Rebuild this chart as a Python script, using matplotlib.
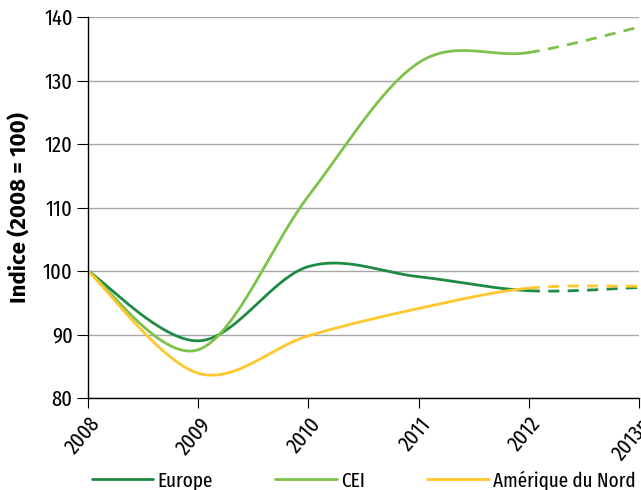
import numpy as np
import matplotlib
matplotlib.use("Agg")
import matplotlib.pyplot as plt

years = ["2008", "2009", "2010", "2011", "2012", "2013p"]
europe = [100.0, 89.0, 100.7, 99.1, 96.9, 97.4]
cei = [100.0, 87.6, 111.8, 132.8, 134.4, 138.4]
amerique = [100.0, 83.9, 89.8, 94.1, 97.3, 97.6]

series = [
    ("Europe", europe, "#1f8a43"),
    ("CEI", cei, "#7dc24a"),
    ("Amérique du Nord", amerique, "#ffc72c"),
]

plt.rcParams["font.family"] = ["Fira Sans Extra Condensed", "Fira Sans Condensed", "DejaVu Sans"]


def smooth(xs, ys, n=40):
    """Excel-like smoothed line: cubic Bezier segments with Catmull-Rom control points."""
    pts = np.column_stack([xs, ys]).astype(float)
    out_x, out_y = [], []
    t = np.linspace(0, 1, n)
    for i in range(len(pts) - 1):
        p0 = pts[i - 1] if i > 0 else pts[i]
        p1, p2 = pts[i], pts[i + 1]
        p3 = pts[i + 2] if i + 2 < len(pts) else pts[i + 1]
        c1 = p1 + (p2 - p0) / 6
        c2 = p2 - (p3 - p1) / 6
        seg = ((1 - t) ** 3)[:, None] * p1 + (3 * (1 - t) ** 2 * t)[:, None] * c1 \
            + (3 * (1 - t) * t ** 2)[:, None] * c2 + (t ** 3)[:, None] * p2
        out_x.append(seg[:, 0])
        out_y.append(seg[:, 1])
    return out_x, out_y


fig = plt.figure(figsize=(6.41, 4.90), dpi=100)
ax = fig.add_axes([88 / 641, 1 - 398 / 490, (639 - 88) / 641, (398 - 17) / 490])

x = np.arange(len(years))
for label, vals, color in series:
    sx, sy = smooth(x, vals)
    solid_x = np.concatenate(sx[:-1])
    solid_y = np.concatenate(sy[:-1])
    ax.plot(solid_x, solid_y, color=color, lw=2.0, solid_capstyle="round", label=label)
    ax.plot(sx[-1], sy[-1], color=color, lw=2.0, ls=(0, (4, 3)))

ax.set_xlim(0, len(years) - 1)
ax.set_ylim(80, 140)
ax.set_yticks(np.arange(80, 141, 10))
ax.set_xticks(x)
ax.set_xticklabels(years, rotation=50, ha="right", rotation_mode="anchor", fontsize=16)
ax.tick_params(axis="y", labelsize=16, length=8, direction="out", pad=3)
ax.tick_params(axis="x", length=7, direction="out", pad=4)
ax.yaxis.grid(True, color="#a6a6a6", lw=1.0)
ax.set_axisbelow(True)
for s in ("top", "right"):
    ax.spines[s].set_visible(False)
for s in ("left", "bottom"):
    ax.spines[s].set_color("black")
    ax.spines[s].set_linewidth(1.0)
ax.set_ylabel("Indice (2008 = 100)", fontsize=16, fontweight="bold",
              family=["Fira Sans", "DejaVu Sans"])
ax.yaxis.set_label_coords(-0.103, 0.5)

fig.legend(loc="lower center", bbox_to_anchor=(0.567, -0.04), ncol=3, frameon=False,
           fontsize=15, handlelength=2.95, columnspacing=3.0, handletextpad=0.2)

fig.savefig("out.png", dpi=100)
